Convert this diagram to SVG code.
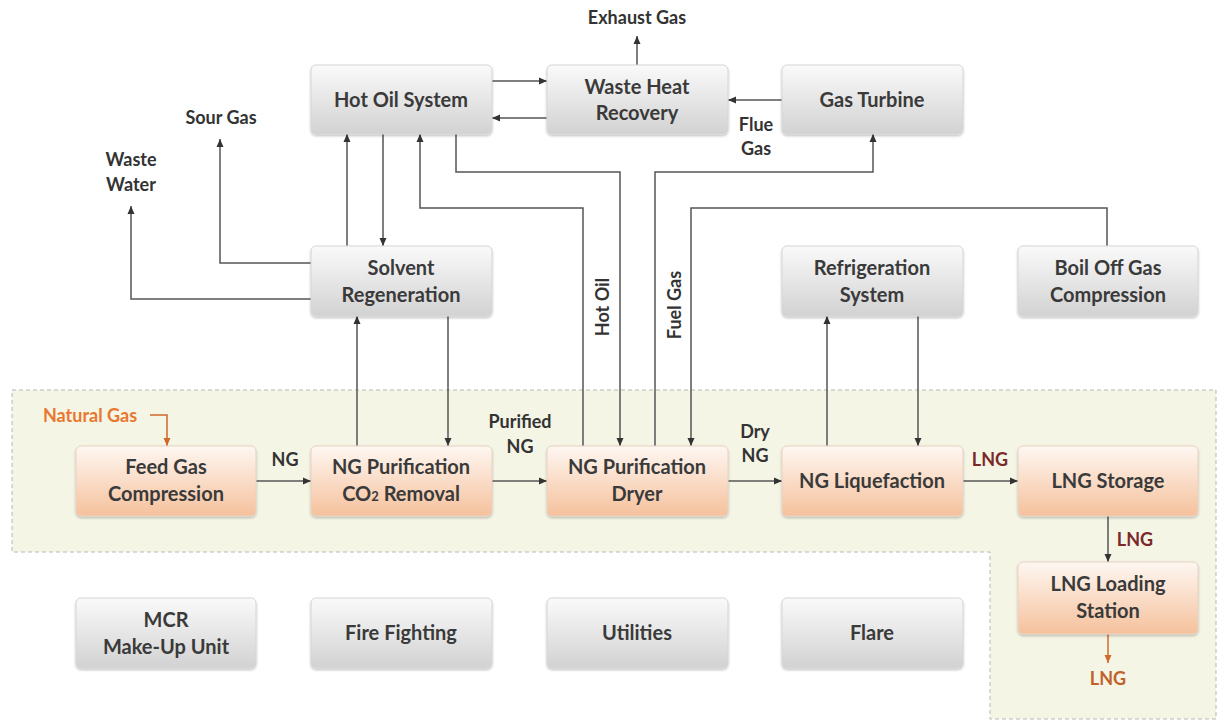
<svg xmlns="http://www.w3.org/2000/svg" width="1218" height="721" viewBox="0 0 1218 721">
<defs>
<linearGradient id="gGray" x1="0" y1="0" x2="0" y2="1">
<stop offset="0" stop-color="#fafafa"/>
<stop offset="1" stop-color="#d2d2d2"/>
</linearGradient>
<linearGradient id="gOrange" x1="0" y1="0" x2="0" y2="1">
<stop offset="0" stop-color="#fef7f2"/>
<stop offset="1" stop-color="#f5c19c"/>
</linearGradient>
<filter id="sh" x="-10%" y="-10%" width="120%" height="130%">
<feDropShadow dx="0" dy="1.5" stdDeviation="1.2" flood-color="#000" flood-opacity="0.25"/>
</filter>
<marker id="ar" markerUnits="userSpaceOnUse" markerWidth="10" markerHeight="10" viewBox="0 0 10 10" refX="9" refY="5" orient="auto">
<path d="M1,1.5 L9,5 L1,8.5 Z" fill="#333"/>
</marker>
<marker id="arO" markerUnits="userSpaceOnUse" markerWidth="10" markerHeight="10" viewBox="0 0 10 10" refX="9" refY="5" orient="auto">
<path d="M1,1.5 L9,5 L1,8.5 Z" fill="#d06a2a"/>
</marker>
</defs>
<style>
.gray{fill:url(#gGray);stroke:#d6d6d6;stroke-width:1;filter:url(#sh)}
.org{fill:url(#gOrange);stroke:#e8d2c2;stroke-width:1;filter:url(#sh)}
.bt{font-family:Lato,"Liberation Sans",sans-serif;font-weight:700;font-size:20px;fill:#3a3a3a;text-anchor:middle}
.lb{font-family:Lato,"Liberation Sans",sans-serif;font-weight:700;font-size:18px;fill:#333;text-anchor:middle}
.red{fill:#7a2a2a}
.orn{fill:#e8782f}
.brn{fill:#c0622a}
.ln{fill:none;stroke:#555;stroke-width:1.5;marker-end:url(#ar)}
.lnO{fill:none;stroke:#d06a2a;stroke-width:1.5;marker-end:url(#arO)}
</style>
<rect width="1218" height="721" fill="#fff"/>
<path d="M12,390 H1216 V719 H990 V552 H12 Z" fill="#f5f5e6" stroke="#b8b8b8" stroke-width="1" stroke-dasharray="4,3"/>

<g id="connectors">
<path class="ln" d="M492,81 H547"/>
<path class="ln" d="M547,118 H492"/>
<path class="ln" d="M637,65 V36"/>
<path class="ln" d="M782,100 H728"/>
<path class="ln" d="M347,246 V134"/>
<path class="ln" d="M383,134 V246"/>
<path class="ln" d="M583,446 V208 H420 V134"/>
<path class="ln" d="M456,134 V172 H620 V446"/>
<path class="ln" d="M655,446 V172 H873 V134"/>
<path class="ln" d="M1107,246 V208 H691 V446"/>
<path class="ln" d="M311,263 H220 V139"/>
<path class="ln" d="M311,299 H131 V206"/>
<path class="ln" d="M357,446 V316"/>
<path class="ln" d="M448,316 V446"/>
<path class="ln" d="M827,446 V316"/>
<path class="ln" d="M918,316 V446"/>
<path class="ln" d="M256,481 H311"/>
<path class="ln" d="M492,481 H547"/>
<path class="ln" d="M728,481 H782"/>
<path class="ln" d="M963,481 H1018"/>
<path class="ln" d="M1108,516 V562"/>
<path class="lnO" d="M1108,634 V663"/>
<path class="lnO" d="M150,415 H167 V446"/>
</g>

<g id="labels">
<text class="lb" x="637" y="24">Exhaust Gas</text>
<text class="lb" x="756" y="131">Flue</text>
<text class="lb" x="756" y="155">Gas</text>
<text class="lb" x="221" y="124">Sour Gas</text>
<text class="lb" x="131" y="166">Waste</text>
<text class="lb" x="131" y="191">Water</text>
<text class="lb" transform="translate(609,307) rotate(-90)">Hot Oil</text>
<text class="lb" transform="translate(681,305) rotate(-90)">Fuel Gas</text>
<text class="lb" x="520" y="428">Purified</text>
<text class="lb" x="520" y="453">NG</text>
<text class="lb" x="285" y="466">NG</text>
<text class="lb" x="755" y="438">Dry</text>
<text class="lb" x="755" y="462">NG</text>
<text class="lb red" x="990" y="466">LNG</text>
<text class="lb red" x="1135" y="546">LNG</text>
<text class="lb brn" x="1108" y="685">LNG</text>
<text class="lb orn" x="90" y="422">Natural Gas</text>
</g>

<g id="hot-oil-system"><rect class="gray" x="311" y="65" width="181" height="69" rx="5"/><text class="bt" x="401" y="107">Hot Oil System</text></g>
<g id="waste-heat-recovery"><rect class="gray" x="547" y="65" width="181" height="69" rx="5"/><text class="bt" x="637" y="94">Waste Heat</text><text class="bt" x="637" y="120">Recovery</text></g>
<g id="gas-turbine"><rect class="gray" x="782" y="65" width="181" height="69" rx="5"/><text class="bt" x="872" y="107">Gas Turbine</text></g>
<g id="solvent-regeneration"><rect class="gray" x="311" y="246" width="181" height="70" rx="5"/><text class="bt" x="401" y="275">Solvent</text><text class="bt" x="401" y="302">Regeneration</text></g>
<g id="refrigeration-system"><rect class="gray" x="782" y="246" width="181" height="70" rx="5"/><text class="bt" x="872" y="275">Refrigeration</text><text class="bt" x="872" y="302">System</text></g>
<g id="boil-off-gas"><rect class="gray" x="1018" y="246" width="180" height="70" rx="5"/><text class="bt" x="1108" y="275">Boil Off Gas</text><text class="bt" x="1108" y="302">Compression</text></g>

<g id="feed-gas-compression"><rect class="org" x="76" y="446" width="180" height="70" rx="5"/><text class="bt" x="166" y="474">Feed Gas</text><text class="bt" x="166" y="501">Compression</text></g>
<g id="co2-removal"><rect class="org" x="311" y="446" width="181" height="70" rx="5"/><text class="bt" x="401" y="474">NG Purification</text><text class="bt" x="401" y="501">CO<tspan font-size="13">2</tspan> Removal</text></g>
<g id="dryer"><rect class="org" x="547" y="446" width="181" height="70" rx="5"/><text class="bt" x="637" y="474">NG Purification</text><text class="bt" x="637" y="501">Dryer</text></g>
<g id="liquefaction"><rect class="org" x="782" y="446" width="181" height="70" rx="5"/><text class="bt" x="872" y="488">NG Liquefaction</text></g>
<g id="lng-storage"><rect class="org" x="1018" y="446" width="180" height="70" rx="5"/><text class="bt" x="1108" y="488">LNG Storage</text></g>
<g id="lng-loading-station"><rect class="org" x="1018" y="562" width="180" height="72" rx="5"/><text class="bt" x="1108" y="591">LNG Loading</text><text class="bt" x="1108" y="618">Station</text></g>

<g id="mcr-make-up"><rect class="gray" x="76" y="598" width="180" height="70" rx="5"/><text class="bt" x="166" y="627">MCR</text><text class="bt" x="166" y="654">Make-Up Unit</text></g>
<g id="fire-fighting"><rect class="gray" x="311" y="598" width="181" height="70" rx="5"/><text class="bt" x="401" y="640">Fire Fighting</text></g>
<g id="utilities"><rect class="gray" x="547" y="598" width="181" height="70" rx="5"/><text class="bt" x="637" y="640">Utilities</text></g>
<g id="flare"><rect class="gray" x="782" y="598" width="181" height="70" rx="5"/><text class="bt" x="872" y="640">Flare</text></g>
</svg>
